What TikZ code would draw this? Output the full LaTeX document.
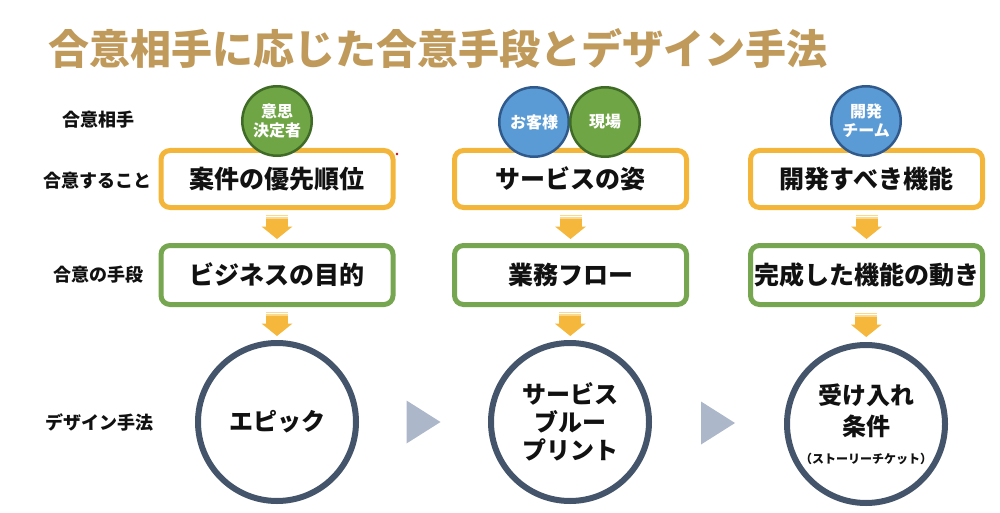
\documentclass[tikz,border=0pt]{standalone}
\usepackage{fontspec}
\setmainfont{Noto Sans CJK JP}
\usetikzlibrary{calc}
\definecolor{titlegold}{HTML}{C09A5B}
\definecolor{boxyellow}{HTML}{F4B63A}
\definecolor{boxgreen}{HTML}{76A650}
\definecolor{arrowy}{HTML}{F5B83C}
\definecolor{arrowlight}{HTML}{FAD98F}
\definecolor{slate}{HTML}{44546A}
\definecolor{tri}{HTML}{ACB7C9}
\definecolor{cgreen}{HTML}{6FA544}
\definecolor{cgreendark}{HTML}{3F6B26}
\definecolor{cblue}{HTML}{5B9BD5}
\definecolor{cbluedark}{HTML}{305A8C}
\definecolor{txt}{HTML}{111111}
\tikzset{
  downarr/.pic={
    \fill[arrowy] (-11,-7.5) rectangle (11,0.5);
    \fill[arrowy] (-15.5,0) -- (15.5,0) -- (0,12.5) -- cycle;
    \fill[arrowlight] (-11,-12) rectangle (11,-10.5);
    \fill[arrowlight] (-11,-9.5) rectangle (11,-8);
  }
}
\begin{document}
\begin{tikzpicture}[x=1pt,y=-1pt,
  ybox/.style={draw=boxyellow, line width=5pt, rounded corners=9pt, fill=white,
    minimum width=232pt, minimum height=57pt, inner sep=0pt,
    font=\bfseries\fontsize{25}{28}\selectfont, text=txt},
  gbox/.style={ybox, draw=boxgreen, minimum height=59pt},
  bigc/.style={circle, draw=slate, line width=6pt, minimum size=158pt, inner sep=0pt,
    align=center, font=\bfseries\fontsize{24}{28}\selectfont, text=txt},
  whoG/.style={circle, fill=cgreen, draw=cgreendark, line width=2.5pt, minimum size=69.5pt,
    inner sep=0pt, text=white, align=center, font=\bfseries\fontsize{16}{19}\selectfont},
  whoB/.style={whoG, fill=cblue, draw=cbluedark},
  rowlabel/.style={font=\bfseries\fontsize{18}{20}\selectfont, text=txt},
  ]
\useasboundingbox (0,0) rectangle (1000,513);

% title
\node[anchor=west, text=titlegold, font=\bfseries\fontsize{41}{46}\selectfont, inner sep=0pt]
  (title) at (48,49) {合意相手に応じた合意手段とデザイン手法};

% row labels
\node[rowlabel] (r1) at (98,120) {合意相手};
\node[rowlabel] (r2) at (97,181) {合意すること};
\node[rowlabel] (r3) at (98,275) {合意の手段};
\node[rowlabel] (r4) at (99,422) {デザイン手法};

% boxes
\node[ybox] (y1) at (277,179) {案件の優先順位};
\node[ybox] (y2) at (570.5,179) {サービスの姿};
\node[ybox] (y3) at (866.5,179) {開発すべき機能};
\node[gbox] (g1) at (277,275) {ビジネスの目的};
\node[gbox] (g2) at (570.5,275) {業務フロー};
\node[gbox] (g3) at (866.5,275) {完成した機能の動き};

% big circles
\node[bigc] (c1) at (277,422) {エピック};
\node[bigc] (c2) at (570,422) {サービス\\ブルー\\プリント};
\node[bigc, font=\bfseries\fontsize{24}{31}\selectfont] (c3) at (866,424)
  {受け入れ\\条件\\[-3pt]{\fontsize{12}{14}\selectfont （ストーリーチケット）}};

% who circles
\node[whoG] (w1) at (277,121) {意思\\決定者};
\node[whoB] (w2) at (534,122) {お客様};
\node[whoG] (w3) at (605,122) {現場};
\node[whoB] (w4) at (866,121) {開発\\チーム};

% block arrows
\foreach \a/\b in {y1/g1,y2/g2,y3/g3,g1/c1,g2/c2,g3/c3}{
  \pic at ($(\a.south)!0.5!(\b.north)$) {downarr};
}

% grey triangles
\foreach \a/\b in {c1/c2,c2/c3}{
  \fill[tri] ($(\a.east)!0.5!(\b.west)$) ++(-17,-21.5) -- ++(0,43) -- ++(34,-21.5) -- cycle;
}

% small red mark
\fill[red!85!black] (397,154) circle (1.3);
\end{tikzpicture}
\end{document}
